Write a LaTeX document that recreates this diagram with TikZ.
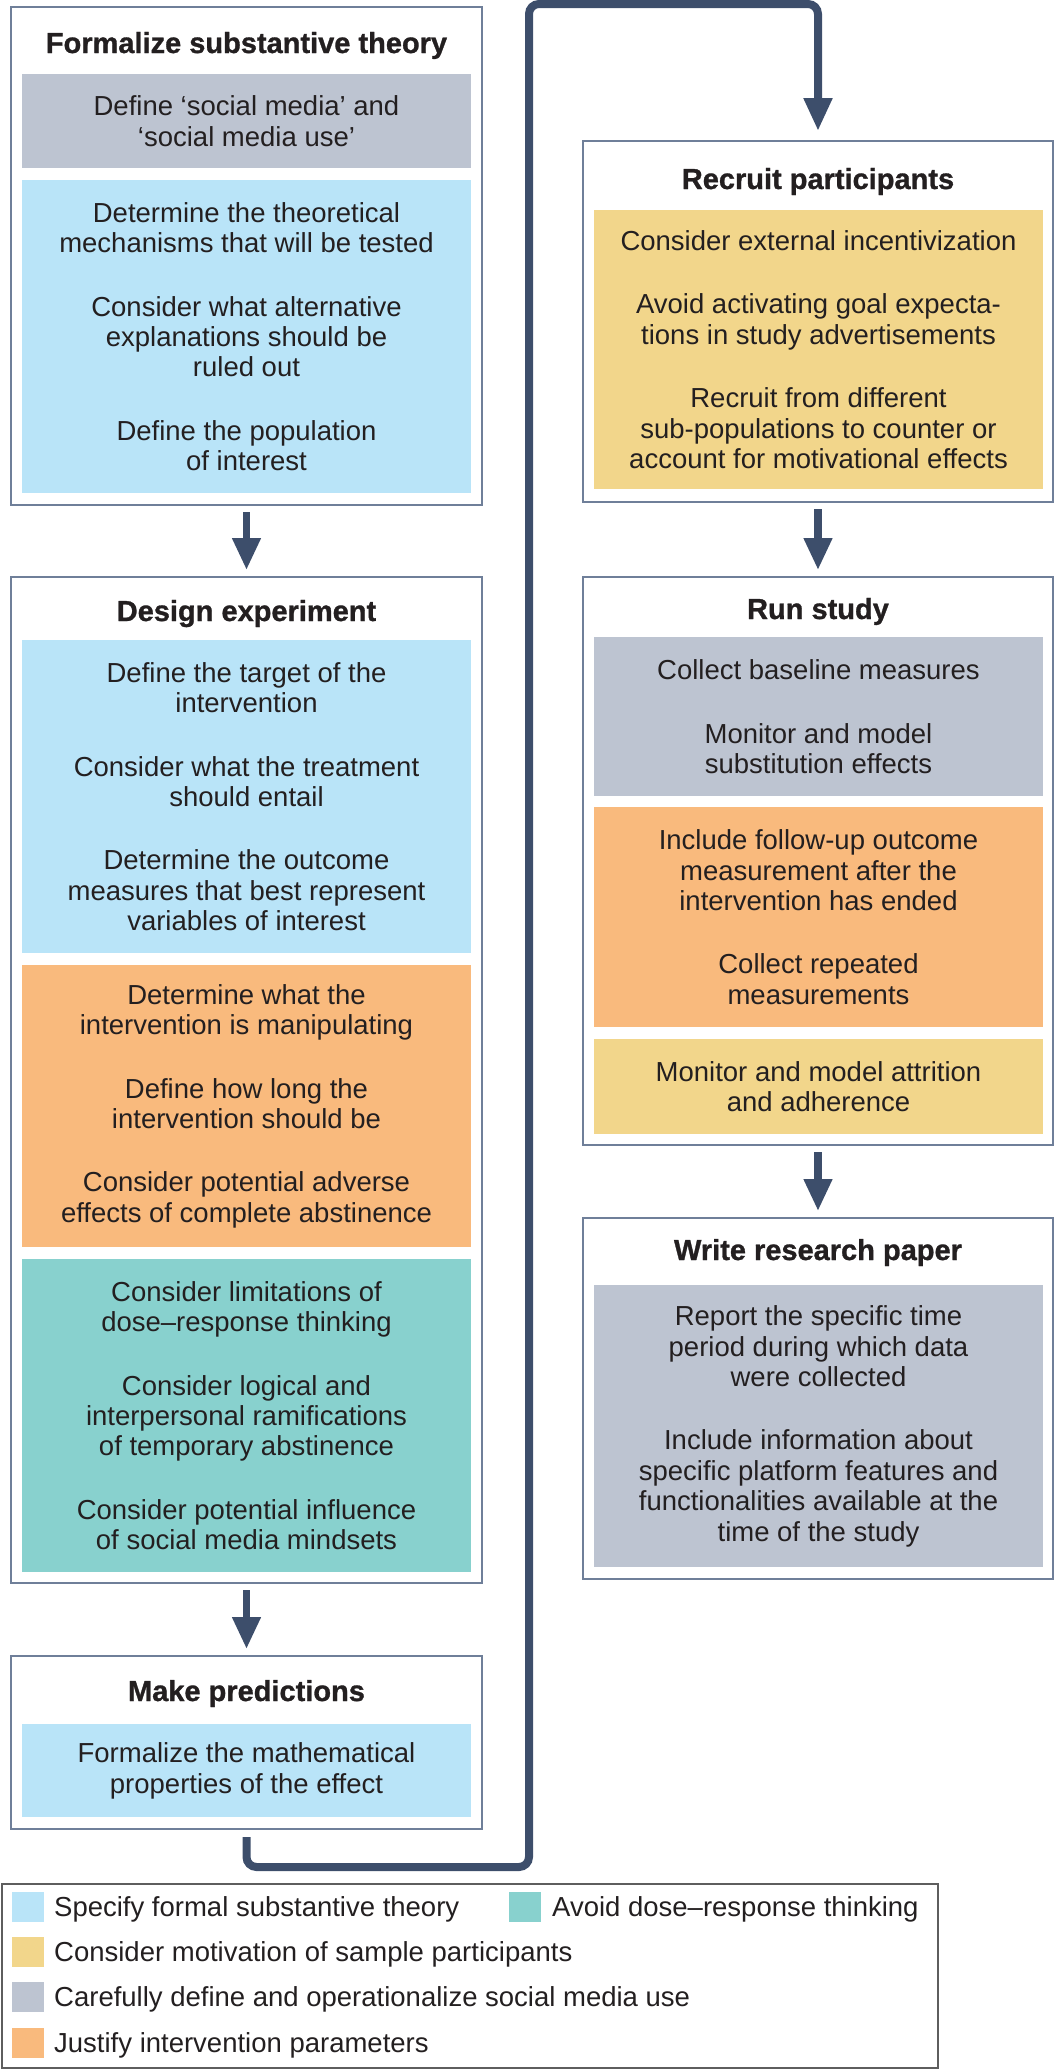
\documentclass[tikz,border=0pt]{standalone}
\usepackage{fontspec}
\setmainfont{Liberation Sans}
\newfontfamily\headfamily{Liberation Sans Bold}[FakeBold=1]
\usetikzlibrary{arrows.meta}

\definecolor{boxedge}{HTML}{6F7F99}
\definecolor{flow}{HTML}{3D4E6B}
\definecolor{theory}{HTML}{B9E4F8}
\definecolor{define}{HTML}{BDC4D1}
\definecolor{params}{HTML}{F9BA7D}
\definecolor{dose}{HTML}{88D1CE}
\definecolor{motive}{HTML}{F2D68B}
\definecolor{ink}{HTML}{231F20}
\definecolor{keyedge}{HTML}{5E5E5E}

\newcommand{\itemfont}{\fontsize{27.5}{30.4}\selectfont}
\newcommand{\headfont}{\fontsize{29}{32}\selectfont\headfamily}

\begin{document}
\begin{tikzpicture}[x=1pt,y=-1pt,
	stagebox/.style={draw=boxedge, line width=2pt, fill=white, anchor=north, inner sep=0pt},
	stagetitle/.style={anchor=base, font=\headfont, text=ink, inner sep=0pt},
	stepbox/.style={anchor=north, minimum width=449pt, inner sep=0pt, align=center, font=\itemfont, text=ink},
	swatch/.style={anchor=north west, minimum width=32pt, minimum height=30pt, inner sep=0pt},
	legendtext/.style={anchor=base west, font=\itemfont, text=ink, inner sep=0pt},
	flowarrow/.style={draw=flow, line width=7.5pt, -{Triangle[length=32pt,width=27pt]}, shorten <=6pt, shorten >=6pt},
	flowline/.style={draw=flow, line width=8pt, rounded corners=10pt, -{Triangle[length=33pt,width=27pt]}}]
	
	\useasboundingbox (0,0) rectangle (1056,2069);
	
	% left column
	\node[stagebox, minimum width=471pt, minimum height=498pt] (formal) at (246.5,6) {};
	\node[stagetitle] (formalT) at (246.5,53) {Formalize substantive theory};
	\node[stepbox, fill=define, minimum height=94pt] (formalA) at (246.5,74)
		{Define ‘social media’ and\\‘social media use’};
	\node[stepbox, fill=theory, minimum height=313pt] (formalB) at (246.5,180)
		{Determine the theoretical\\mechanisms that will be tested\\[33pt]
		Consider what alternative\\explanations should be\\ruled out\\[33pt]
		Define the population\\of interest};
	
	\node[stagebox, minimum width=471pt, minimum height=1006pt] (design) at (246.5,576) {};
	\node[stagetitle] (designT) at (246.5,621) {Design experiment};
	\node[stepbox, fill=theory, minimum height=313pt] (designA) at (246.5,640)
		{Define the target of the\\intervention\\[33pt]
		Consider what the treatment\\should entail\\[33pt]
		Determine the outcome\\measures that best represent\\variables of interest};
	\node[stepbox, fill=params, minimum height=282pt] (designB) at (246.5,965)
		{Determine what the\\intervention is manipulating\\[33pt]
		Define how long the\\intervention should be\\[33pt]
		Consider potential adverse\\effects of complete abstinence};
	\node[stepbox, fill=dose, minimum height=313pt] (designC) at (246.5,1259)
		{Consider limitations of\\dose–response thinking\\[33pt]
		Consider logical and\\interpersonal ramifications\\of temporary abstinence\\[33pt]
		Consider potential influence\\of social media mindsets};
	
	\node[stagebox, minimum width=471pt, minimum height=173pt] (predict) at (246.5,1655) {};
	\node[stagetitle] (predictT) at (246.5,1701) {Make predictions};
	\node[stepbox, fill=theory, minimum height=93pt] (predictA) at (246.5,1724)
		{Formalize the mathematical\\properties of the effect};
	
	% right column
	\node[stagebox, minimum width=470pt, minimum height=361pt] (recruit) at (818,140) {};
	\node[stagetitle] (recruitT) at (818,189) {Recruit participants};
	\node[stepbox, fill=motive, minimum height=279pt] (recruitA) at (818.5,210)
		{Consider external incentivization\\[33pt]
		Avoid activating goal expecta-\\tions in study advertisements\\[33pt]
		Recruit from different\\sub-populations to counter or\\account for motivational effects};
	
	\node[stagebox, minimum width=470pt, minimum height=568pt] (run) at (818,576) {};
	\node[stagetitle] (runT) at (818,619) {Run study};
	\node[stepbox, fill=define, minimum height=159pt] (runA) at (818.5,637)
		{Collect baseline measures\\[33pt]
		Monitor and model\\substitution effects};
	\node[stepbox, fill=params, minimum height=220pt] (runB) at (818.5,807)
		{Include follow-up outcome\\measurement after the\\intervention has ended\\[33pt]
		Collect repeated\\measurements};
	\node[stepbox, fill=motive, minimum height=95pt] (runC) at (818.5,1039)
		{Monitor and model attrition\\and adherence};
	
	\node[stagebox, minimum width=470pt, minimum height=361pt] (write) at (818,1217) {};
	\node[stagetitle] (writeT) at (818,1260) {Write research paper};
	\node[stepbox, fill=define, minimum height=282pt] (writeA) at (818.5,1285)
		{Report the specific time\\period during which data\\were collected\\[33pt]
		Include information about\\specific platform features and\\functionalities available at the\\time of the study};
	
	% arrows
	\draw[flowarrow] (formal) -- (design);
	\draw[flowarrow] (design) -- (predict);
	\draw[flowarrow] (recruit) -- (run);
	\draw[flowarrow] (run) -- (write);
	
	\coordinate (loopbot) at (529,1867);
	\coordinate (looptop) at (529,4);
	\draw[flowline] ([yshift=-7pt]predict.south) |- (loopbot) -- (looptop) -| ([yshift=9pt]recruit.north);
	
	% legend
	\node[draw=keyedge, line width=2pt, anchor=north west, minimum width=936pt, minimum height=184pt, inner sep=0pt] (legend) at (1,1883) {};
	\node[swatch, fill=theory] (keyA) at (12,1892) {};
	\node[legendtext] (keyAT) at (54,1916.5) {Specify formal substantive theory};
	\node[swatch, fill=dose] (keyB) at (509,1892) {};
	\node[legendtext] (keyBT) at (552,1916.5) {Avoid dose–response thinking};
	\node[swatch, fill=motive] (keyC) at (12,1937) {};
	\node[legendtext] (keyCT) at (54,1961.5) {Consider motivation of sample participants};
	\node[swatch, fill=define] (keyD) at (12,1982) {};
	\node[legendtext] (keyDT) at (54,2006.5) {Carefully define and operationalize social media use};
	\node[swatch, fill=params] (keyE) at (12,2028) {};
	\node[legendtext] (keyET) at (54,2052.5) {Justify intervention parameters};
	
\end{tikzpicture}
\end{document}
